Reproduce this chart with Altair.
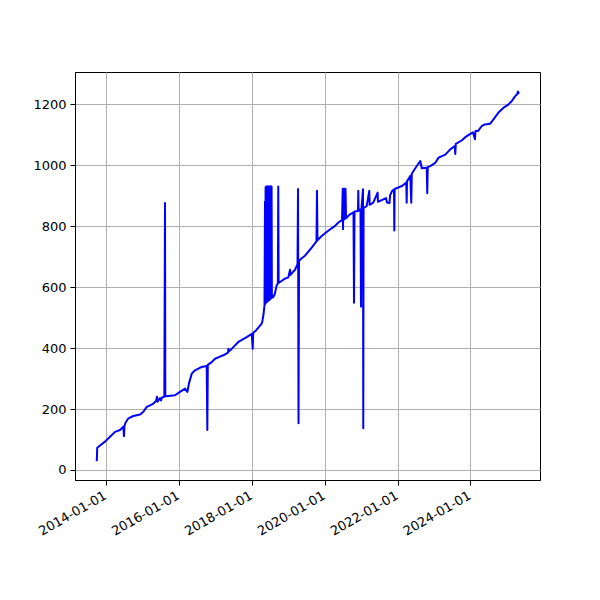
import altair as alt
import pandas as pd

dates = [
    "2013-09-30", "2013-10-05", "2013-11-02", "2013-12-22", "2014-02-10", "2014-04-01",
    "2014-05-21", "2014-06-23", "2014-06-30", "2014-07-05", "2014-07-15", "2014-08-12",
    "2014-10-02", "2014-12-08", "2015-01-10", "2015-02-13", "2015-03-18", "2015-04-20",
    "2015-05-17", "2015-05-27", "2015-06-01", "2015-06-26", "2015-07-06", "2015-07-16",
    "2015-08-08", "2015-08-15", "2015-08-18", "2015-09-17", "2015-11-23", "2016-01-12",
    "2016-03-03", "2016-03-26", "2016-04-12", "2016-05-09", "2016-06-11", "2016-08-17",
    "2016-10-06", "2016-10-12", "2016-10-17", "2016-11-25", "2016-12-28", "2017-02-16",
    "2017-04-07", "2017-05-07", "2017-05-12", "2017-05-17", "2017-05-27", "2017-06-30",
    "2017-08-19", "2017-11-11", "2017-12-31", "2018-01-10", "2018-01-15", "2018-02-12",
    "2018-03-24", "2018-04-13", "2018-04-28", "2018-05-08",
    "2018-05-13", "2018-05-16", "2018-05-19", "2018-05-22", "2018-05-25", "2018-05-28",
    "2018-05-31", "2018-06-03", "2018-06-06", "2018-06-09", "2018-06-12", "2018-06-15",
    "2018-06-18", "2018-06-21", "2018-06-24", "2018-06-27", "2018-06-30", "2018-07-03",
    "2018-07-06", "2018-07-09", "2018-07-12", "2018-07-15", "2018-07-18", "2018-07-21",
    "2018-08-03", "2018-08-20", "2018-09-06", "2018-09-19", "2018-09-23", "2018-09-27",
    "2018-10-26", "2018-11-29", "2019-01-02", "2019-01-19", "2019-01-24", "2019-02-18",
    "2019-03-10", "2019-04-04", "2019-04-09", "2019-04-14", "2019-04-19", "2019-05-09",
    "2019-06-18", "2019-08-24", "2019-10-11", "2019-10-16", "2019-10-21", "2019-12-02",
    "2020-02-06", "2020-04-14", "2020-05-17", "2020-06-23",
    "2020-06-30", "2020-07-03", "2020-07-08", "2020-07-13", "2020-07-18", "2020-07-23",
    "2020-07-28", "2020-08-02",
    "2020-09-11", "2020-10-16", "2020-10-21", "2020-10-26", "2020-11-30", "2020-12-03",
    "2020-12-06", "2020-12-25", "2020-12-30", "2021-01-04", "2021-01-19", "2021-01-22",
    "2021-01-25", "2021-02-25", "2021-03-23", "2021-03-27", "2021-05-02", "2021-06-15",
    "2021-06-18", "2021-08-11", "2021-09-07", "2021-09-17", "2021-10-12", "2021-10-17",
    "2021-11-06", "2021-11-26", "2021-11-29", "2021-12-02", "2022-01-08", "2022-02-14",
    "2022-03-29", "2022-04-02", "2022-04-05", "2022-05-08", "2022-05-18", "2022-05-23",
    "2022-06-27", "2022-08-16", "2022-08-31", "2022-10-20", "2022-10-25", "2022-10-30",
    "2022-11-24", "2023-01-14", "2023-02-16", "2023-04-24", "2023-06-13", "2023-07-28",
    "2023-08-02", "2023-08-07", "2023-10-08", "2023-11-10", "2023-12-27", "2024-01-26",
    "2024-02-15", "2024-02-20", "2024-03-16", "2024-04-22", "2024-05-25", "2024-07-15",
    "2024-08-17", "2024-10-06", "2024-11-25", "2025-01-14", "2025-02-17", "2025-03-22",
    "2025-04-11", "2025-04-21", "2025-04-26", "2025-05-01",
]

values = [
    29, 73, 80, 93, 109, 125,
    131, 142, 111, 145, 155, 169,
    177, 182, 191, 207, 212, 218,
    226, 240, 224, 236, 228, 238,
    240, 876, 242, 243, 245, 256,
    267, 256, 285, 316, 327, 338,
    341, 131, 345, 354, 365, 372,
    379, 385, 398, 390, 392, 403,
    420, 436, 447, 398, 450, 458,
    474, 482, 510, 540,
    880, 545, 928, 548, 930, 550,
    930, 552, 930, 554, 930, 555,
    930, 557, 930, 558, 930, 560,
    930, 562, 930, 564, 930, 566,
    567, 578, 605, 612, 930, 614,
    620, 628, 632, 657, 640, 650,
    657, 675, 922, 153, 685, 693,
    703, 730, 750, 916, 754, 768,
    785, 801, 812, 820,
    923, 790, 923, 822, 923, 824,
    923, 826,
    839, 845, 549, 848, 850, 916,
    851, 855, 536, 857, 921, 137,
    860, 866, 916, 870, 877, 910,
    880, 888, 892, 878, 876, 900,
    915, 920, 786, 922, 927, 932,
    943, 877, 947, 965, 877, 972,
    990, 1014, 990, 992, 908, 994,
    997, 1008, 1025, 1035, 1052, 1063,
    1037, 1070, 1082, 1092, 1102, 1108,
    1085, 1112, 1112, 1128, 1134, 1136,
    1150, 1172, 1188, 1199, 1210, 1226,
    1232, 1242, 1236, 1240,
]

x_ticks = ["2014-01-01", "2016-01-01", "2018-01-01", "2020-01-01", "2022-01-01", "2024-01-01"]
y_ticks = [0, 200, 400, 600, 800, 1000, 1200]

df = pd.DataFrame({"date": dates, "value": values})


def utc_dt(s):
    y, m, d = (int(p) for p in s.split("-"))
    return alt.DateTime(year=y, month=m, date=d, utc=True)


chart = (
    alt.Chart(df)
    .mark_line(color="#0000ff", strokeWidth=2, strokeJoin="round")
    .encode(
        x=alt.X(
            "date:T",
            title=None,
            scale=alt.Scale(type="utc", domain=[utc_dt("2013-02-24"), utc_dt("2025-11-28")]),
            axis=alt.Axis(
                values=[utc_dt(t) for t in x_ticks],
                format="%Y-%m-%d",
                labelAngle=-30,
                labelAlign="right",
                labelBaseline="top",
                labelPadding=4,
                labelOffset=-4,
                labelFlush=False,
                labelOverlap=False,
            ),
        ),
        y=alt.Y(
            "value:Q",
            title=None,
            scale=alt.Scale(domain=[-33, 1306], nice=False, zero=False),
            axis=alt.Axis(values=y_ticks, format="d", labelPadding=4),
        ),
        order=alt.Order("date:T"),
    )
    .properties(
        width=465,
        height=408,
        autosize=alt.AutoSizeParams(type="none"),
        padding={"left": 67, "top": 64, "right": 52, "bottom": 100},
    )
    .configure_view(stroke="black", strokeWidth=1)
    .configure_axis(
        grid=True,
        gridColor="#b0b0b0",
        gridWidth=1,
        domainColor="black",
        domainWidth=1,
        tickColor="black",
        tickSize=5,
        tickWidth=1,
        labelFont="DejaVu Sans",
        labelFontSize=13,
        labelColor="black",
    )
)

chart.save("out.html", embed_options={"renderer": "svg", "actions": False})
